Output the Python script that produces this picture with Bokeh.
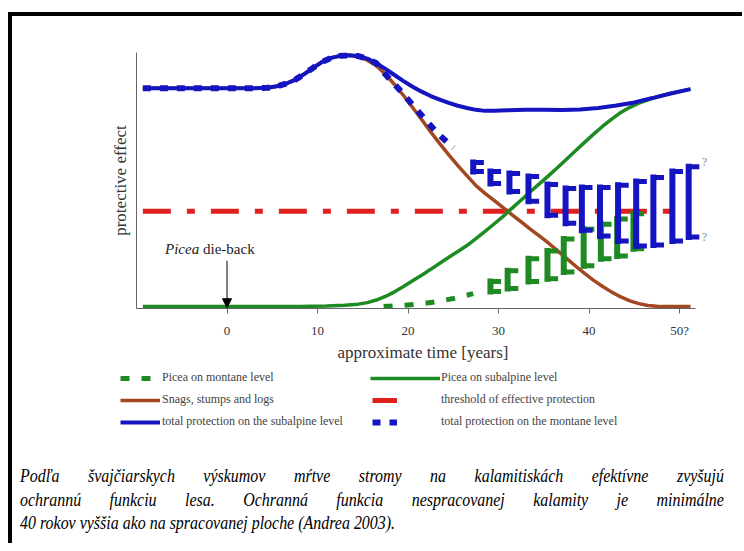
from bokeh.plotting import figure
from bokeh.models import (Range1d, FixedTicker, Legend, LegendItem, Label, Arrow,
                          NormalHead, Div, ColumnDataSource)
from bokeh.layouts import column
from bokeh.embed import file_html
from bokeh.resources import INLINE

# ---------------- data (protective effect on a 0-100 scale) -------------
sub_years = [-9.3, -5, 0, 3, 4.5, 5.5, 6.5, 7.5, 8.5, 9.5, 10.5, 11.5, 12.5, 13.5, 14.5, 15.5,
             16.5, 17.5, 18.5, 19.5, 20.5, 21.5, 22.5, 23.5, 24.5, 25.5, 26.5, 27.5, 28.5,
             29.5, 31, 33, 35, 37, 39, 41, 43, 45, 47, 49, 51.2]
sub_total = [86.0, 86.0, 86.0, 86.0, 86.2, 86.8, 87.8, 89.3, 91.5, 94.0, 96.3, 97.9, 98.7,
             98.9, 98.6, 97.6, 95.8, 93.6, 91.2, 88.8, 86.6, 84.7, 83.0, 81.6, 80.3, 79.2,
             78.3, 77.6, 77.2, 77.2, 77.4, 77.6, 77.6, 77.5, 77.7, 78.3, 79.3, 80.5, 82.2,
             84.0, 85.7]

snag_years = [-9.3, -5, 0, 3, 4.5, 5.5, 6.5, 7.5, 8.5, 9.5, 10.5, 11.5, 12.5, 13.5, 14.5,
              15.5, 16.5, 17.5, 18.5, 19.5, 20.5, 21.5, 22.5, 23.5, 24.5, 25.5, 26.5, 27.5,
              28.5, 29.5, 30.5, 31.5, 32.5, 33.5, 34.5, 35.5, 36.5, 37.5, 38.5, 39.5, 40.5,
              41.5, 42.5, 43.5, 44.5, 45.5, 46.5, 47.5, 49, 51.2]
snags = [86.0, 86.0, 86.0, 86.0, 86.2, 86.8, 87.8, 89.3, 91.5, 94.0, 96.3, 97.9, 98.7, 98.9,
         98.3, 97.0, 94.8, 91.5, 87.5, 83.2, 78.5, 73.8, 69.0, 64.4, 60.0, 55.8, 51.9, 48.0,
         45.0, 42.2, 39.4, 36.6, 33.8, 31.0, 28.4, 25.6, 22.6, 19.6, 16.6, 13.7, 11.0, 8.6,
         6.4, 4.5, 3.0, 1.9, 1.2, 0.9, 0.8, 0.8]

pic_sub_years = [-9.3, 0, 8, 11, 13, 14.5, 15.5, 16.5, 17.5, 18.5, 19.5, 20.5, 21.5, 22.5,
                 23.5, 24.5, 25.5, 26.5, 27.5, 28.5, 29.5, 30.5, 31.5, 32.5, 33.5, 34.5,
                 35.5, 36.5, 37.5, 38.5, 39.5, 40.5, 41.5, 42.5, 43.5, 44.5, 45.5, 46.5,
                 47.5, 49, 51.2]
pic_sub = [0.8, 0.8, 0.8, 1.0, 1.3, 1.7, 2.3, 3.3, 4.7, 6.5, 8.6, 10.8, 13.0, 15.3, 17.7,
           20.0, 22.3, 24.6, 27.3, 30.1, 33.0, 36.0, 39.2, 42.4, 45.6, 48.7, 51.8, 55.0,
           58.3, 61.6, 64.9, 68.1, 71.2, 74.0, 76.6, 78.6, 80.2, 81.5, 82.7, 84.0, 85.7]

threshold_years = [-9.3, 50.4]
threshold = [38.0, 38.0]

# total protection on the montane level: dashes, then an uncertainty range
mon_dash_years = [-9.3, -5, 0, 3, 4.5, 5.5, 6.5, 7.5, 8.5, 9.5, 10.5, 11.5, 12.5, 13.5,
                  14.5, 15.5, 16.5, 17.3, 19.1, 21.0, 23.2, 25.0]
mon_dash = [86.0, 86.0, 86.0, 86.0, 86.2, 86.8, 87.8, 89.3, 91.5, 94.0, 96.3, 97.9, 98.7,
            98.9, 98.6, 97.6, 95.8, 92.2, 85.3, 77.5, 68.6, 62.8]
mon_rng_years = [27.2, 29.1, 31.2, 33.3, 35.4, 37.4, 39.2, 41.2, 43.2, 45.2, 47.1, 49.2, 51.0]
mon_upper = [57.0, 53.5, 52.7, 51.6, 48.4, 46.9, 47.3, 47.3, 48.1, 49.6, 51.2, 53.5, 55.4]
mon_lower = [53.5, 48.8, 45.7, 41.9, 36.4, 33.3, 30.6, 28.3, 26.4, 24.4, 24.8, 26.4, 27.9]

# Picea on montane level: dashes, then an uncertainty range
picm_dash_years = [17.3, 19.1, 21.0, 23.2, 25.0, 27.2]
picm_dash = [0.8, 1.2, 1.6, 2.7, 3.9, 5.8]
picm_rng_years = [29.1, 31.0, 33.3, 35.4, 37.2, 39.4, 41.3, 43.1, 44.9]
picm_upper = [10.5, 14.7, 19.4, 22.5, 27.1, 31.0, 32.9, 35.0, 37.0]
picm_lower = [6.6, 7.8, 10.5, 11.6, 14.3, 16.7, 19.4, 20.5, 23.3]

x_ticks = [0, 10, 20, 30, 40, 50]
x_tick_labels = {50: "50?"}
dieback_year = 0

caption_lines = [
    "Podľa švajčiarskych výskumov mŕtve stromy na kalamitiskách efektívne zvyšujú",
    "ochrannú funkciu lesa. Ochranná funkcia nespracovanej kalamity je minimálne",
    "40 rokov vyššia ako na spracovanej ploche (Andrea 2003).",
]

# ---------------- style ----------------
BLUE = "#1414c0"
GREEN = "#1e8a22"
BROWN = "#a2471f"
RED = "#e0201e"
SERIF = "Liberation Serif"
TXT = "#333333"
W = 730

p = figure(width=W, height=348, x_range=Range1d(-10, 53.3), y_range=Range1d(0, 100),
           output_backend="svg", toolbar_location=None, frame_align=False,
           min_border_left=124, min_border_right=33, min_border_top=36, min_border_bottom=54)
p.outline_line_color = None
p.grid.visible = False

# axes
xa = p.xaxis[0]
xa.bounds = (-10, 51.8)
xa.ticker = FixedTicker(ticks=x_ticks)
xa.major_label_overrides = x_tick_labels
xa.minor_tick_line_color = None
xa.major_tick_in = 0
xa.major_tick_out = 5
xa.axis_line_color = "#666666"
xa.major_tick_line_color = "#666666"
xa.major_label_text_font = SERIF
xa.major_label_text_font_size = "13px"
xa.major_label_text_color = TXT
xa.major_label_standoff = 9
xa.axis_label = "approximate time [years]"
xa.axis_label_text_font = SERIF
xa.axis_label_text_font_style = "normal"
xa.axis_label_text_font_size = "17px"
xa.axis_label_text_color = TXT
xa.axis_label_standoff = 2

ya = p.yaxis[0]
ya.ticker = FixedTicker(ticks=[])
ya.minor_tick_line_color = None
ya.major_tick_line_color = None
ya.axis_line_color = "#666666"
ya.major_label_standoff = 0
ya.axis_label = "protective effect"
ya.axis_label_text_font = SERIF
ya.axis_label_text_font_style = "normal"
ya.axis_label_text_font_size = "17px"
ya.axis_label_text_color = TXT
ya.axis_label_standoff = 7

STY = dict(
    red=dict(line_color=RED, line_width=5, line_dash="28 16 8 16"),
    brown=dict(line_color=BROWN, line_width=3.5),
    gsub=dict(line_color=GREEN, line_width=3.5),
    gmon=dict(line_color=GREEN, line_width=5, line_dash="9 12"),
    bmon=dict(line_color=BLUE, line_width=6, line_dash="8 9"),
    bsub=dict(line_color=BLUE, line_width=4),
)

p.line(threshold_years, threshold, **STY["red"])
p.line(snag_years, snags, **STY["brown"])
p.line(pic_sub_years, pic_sub, **STY["gsub"])

# Picea montane
p.line(picm_dash_years, picm_dash, **STY["gmon"])
gsrc = ColumnDataSource(dict(x=picm_rng_years, lo=picm_lower, hi=picm_upper,
                             xc=[v + 0.9 for v in picm_rng_years]))
for a, b, c, d, w in (("x", "lo", "x", "hi", 6), ("x", "hi", "xc", "hi", 5), ("x", "lo", "xc", "lo", 5)):
    p.segment(x0=a, y0=b, x1=c, y1=d, source=gsrc, line_color=GREEN, line_width=w,
              line_cap="square")

# total montane
p.line(mon_dash_years, mon_dash, **STY["bmon"])
bsrc = ColumnDataSource(dict(x=mon_rng_years, lo=mon_lower, hi=mon_upper,
                             xc=[v + 0.9 for v in mon_rng_years]))
for a, b, c, d, w in (("x", "lo", "x", "hi", 6), ("x", "hi", "xc", "hi", 5), ("x", "lo", "xc", "lo", 5)):
    p.segment(x0=a, y0=b, x1=c, y1=d, source=bsrc, line_color=BLUE, line_width=w,
              line_cap="square")

# total subalpine
p.line(sub_years, sub_total, **STY["bsub"])

# question marks at the end of the montane range
for yv in (mon_upper[-1] + 1.8, mon_lower[-1]):
    p.add_layout(Label(x=mon_rng_years[-1], y=yv, x_offset=13, text="?", text_font=SERIF,
                       text_font_size="12px", text_color="#888888", text_baseline="middle"))

# Picea die-back annotation
p.add_layout(Arrow(end=NormalHead(size=9, fill_color="black", line_color="black"),
                   x_start=dieback_year, y_start=18.6, x_end=dieback_year, y_end=0.3,
                   line_color="black", line_width=1))
p.add_layout(Label(x=dieback_year, y=23.3, x_offset=-62, text="Picea", text_font=SERIF,
                   text_font_style="italic", text_font_size="15px", text_color="#222222",
                   text_baseline="middle"))
p.add_layout(Label(x=dieback_year, y=23.3, x_offset=-24, text="die-back", text_font=SERIF,
                   text_font_size="15px", text_color="#222222", text_baseline="middle"))

# ---------------- legend panel (same series, drawn out of view; only the keys show) ----------
lf = figure(width=W, height=82, x_range=Range1d(0, 1), y_range=Range1d(500, 501),
            x_axis_type=None, y_axis_type=None, output_backend="svg", toolbar_location=None,
            min_border=0, outline_line_color=None, frame_align=False)
lf.grid.visible = False
k_red = lf.line(threshold_years, threshold, **STY["red"])
k_br = lf.line(snag_years, snags, **STY["brown"])
k_gs = lf.line(pic_sub_years, pic_sub, **STY["gsub"])
k_gm = lf.line(picm_dash_years, picm_dash, **STY["gmon"])
k_bm = lf.line(mon_dash_years, mon_dash, **STY["bmon"])
k_bs = lf.line(sub_years, sub_total, **STY["bsub"])


def mk_legend(items, loc, gw, standoff):
    lg = Legend(items=items, location=loc, orientation="vertical",
                glyph_width=gw, glyph_height=12, label_height=12, spacing=7,
                label_standoff=standoff, padding=0, margin=0,
                label_text_font=SERIF, label_text_font_size="12px",
                label_text_color="#444444", label_text_baseline="middle",
                background_fill_alpha=0, border_line_alpha=0)
    lf.add_layout(lg)


mk_legend([LegendItem(label="Picea on montane level", renderers=[k_gm]),
           LegendItem(label="Snags, stumps and logs", renderers=[k_br]),
           LegendItem(label="total protection on the subalpine level", renderers=[k_bs])],
          (108, 17), 40, 2)
mk_legend([LegendItem(label="Picea on subalpine level", renderers=[k_gs])],
          (358, 61), 70, 1)
mk_legend([LegendItem(label="threshold of effective protection", renderers=[k_red]),
           LegendItem(label="total protection on the montane level", renderers=[k_bm])],
          (360, 17), 25, 44)

# ---------------- caption ----------------
inner = ("font-family:'Liberation Serif',serif;font-style:italic;font-size:19px;"
         "line-height:23.5px;color:#000;width:838px;transform:scaleX(0.84);"
         "transform-origin:0 0;")
just = "text-align:justify;text-align-last:justify;"
html = (f"<div style=\"padding:18px 0 0 8px;\"><div style=\"width:704px;overflow:hidden;\">"
        f"<div style=\"{inner}\">"
        f"<div style=\"{just}\">{caption_lines[0]}</div>"
        f"<div style=\"{just}\">{caption_lines[1]}</div>"
        f"<div>{caption_lines[2]}</div></div></div></div>")
cap = Div(text=html, width=W, height=97, margin=(0, 0, 0, 0))

layout = column(p, lf, cap, styles={"border-top": "4px solid #000", "border-left": "4px solid #000",
                                    "margin-top": "12px", "margin-left": "8px",
                                    "background": "white"})

open("out.html", "w").write(file_html(layout, INLINE))
